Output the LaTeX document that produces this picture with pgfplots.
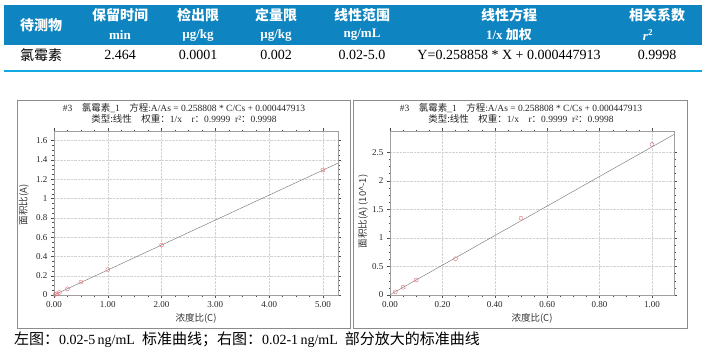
\documentclass[border=0pt]{standalone}
\usepackage{pgfplots}
\pgfplotsset{compat=1.18}
\usepackage{fontspec}
\setmainfont{Liberation Serif}
\newfontfamily\cjk{Noto Sans CJK SC}
\definecolor{hdr}{HTML}{0E84C0}
\definecolor{rulec}{HTML}{12A9E2}
\definecolor{mk}{HTML}{E66A72}
\definecolor{fr}{HTML}{8C8C8C}
\definecolor{ln}{HTML}{6E6E6E}
\pgfplotsset{cal/.style={
  scale only axis, width=284pt, height=164pt, anchor=south west,
  axis line style={draw=gray!75},
  tick align=outside, tick style={black!70, thin},
  major tick length=3pt, minor tick length=1.5pt,
  minor x tick num=3, minor y tick num=3,
  grid=major, major grid style={densely dotted, gray!35},
  ticklabel style={font=\fontsize{9}{10}\selectfont, text=black!85},
  /pgf/number format/assume math mode=true,
  xticklabel style={/pgf/number format/fixed,/pgf/number format/fixed zerofill,/pgf/number format/precision=2},
  every axis x label/.style={at={(axis description cs:0.5,0)}, anchor=center, yshift=-23pt, font=\cjk\fontsize{9.5}{11}\selectfont, text=black!80},
  clip=false,
}}
\begin{document}
\begin{tikzpicture}
\path[use as bounding box] (0,0) rectangle (707pt,-360pt);
% ---------- table ----------
\fill[hdr] (4pt,-5pt) rectangle (702pt,-45pt);
\draw[rulec, line width=2.2pt] (4pt,-71pt) -- (702pt,-71pt);
\begin{scope}[every node/.style={text=white, inner sep=0pt, anchor=center}]
\node[font=\cjk\fontsize{14}{16}\selectfont\bfseries] at (41pt,-25pt) {待测物};
\node[font=\cjk\fontsize{14}{16}\selectfont\bfseries] at (120pt,-15pt) {保留时间};
\node[font=\cjk\fontsize{14}{16}\selectfont\bfseries] at (198pt,-15pt) {检出限};
\node[font=\cjk\fontsize{14}{16}\selectfont\bfseries] at (276pt,-15pt) {定量限};
\node[font=\cjk\fontsize{14}{16}\selectfont\bfseries] at (362pt,-15pt) {线性范围};
\node[font=\cjk\fontsize{14}{16}\selectfont\bfseries] at (509pt,-15pt) {线性方程};
\node[font=\cjk\fontsize{14}{16}\selectfont\bfseries] at (657pt,-15pt) {相关系数};
\node[font=\fontsize{13}{15}\selectfont\bfseries] at (120pt,-35pt) {min};
\node[font=\fontsize{13}{15}\selectfont\bfseries] at (198pt,-35pt) {µg/kg};
\node[font=\fontsize{13}{15}\selectfont\bfseries] at (276pt,-35pt) {µg/kg};
\node[font=\fontsize{13}{15}\selectfont\bfseries] at (362pt,-35pt) {ng/mL};
\node[font=\fontsize{13}{15}\selectfont\bfseries] at (509pt,-35pt) {1/x {\cjk 加权}};
\node[font=\fontsize{13}{15}\selectfont\bfseries] at (648pt,-35pt) {\textit{r}\textsuperscript{2}};
\end{scope}
\begin{scope}[every node/.style={text=black, inner sep=0pt, anchor=center, font=\fontsize{14}{16}\selectfont}]
\node at (41pt,-55pt) {\cjk 氯霉素};
\node at (120pt,-55pt) {2.464};
\node at (198pt,-55pt) {0.0001};
\node at (276pt,-55pt) {0.002};
\node at (362pt,-55pt) {0.02-5.0};
\node at (509pt,-55pt) {Y=0.258858 * X + 0.000447913};
\node at (657pt,-55pt) {0.9998};
\end{scope}
% ---------- frames ----------
\draw[fr, line width=0.9pt] (17pt,-100pt) rectangle (350pt,-328pt);
\draw[fr, line width=0.9pt] (353pt,-100pt) rectangle (687pt,-328pt);
% ---------- titles ----------
\begin{scope}[every node/.style={text=black!85, inner sep=0pt, anchor=center, font=\fontsize{9.5}{11}\selectfont}]
\node at (184pt,-108pt) {\#3\quad{\cjk 氯霉素}\_1\quad{\cjk 方程}:A/As =\ 0.258808 * C/Cs + 0.000447913};
\node at (184pt,-119pt) {{\cjk 类型:线性\quad 权重：}1/x\quad r{\cjk ：}0.9999\ \ r²{\cjk ：}0.9998};
\node at (521pt,-108pt) {\#3\quad{\cjk 氯霉素}\_1\quad{\cjk 方程}:A/As =\ 0.258808 * C/Cs + 0.000447913};
\node at (521pt,-119pt) {{\cjk 类型:线性\quad 权重：}1/x\quad r{\cjk ：}0.9999\ \ r²{\cjk ：}0.9998};
\end{scope}
% ---------- left axis ----------
\begin{axis}[cal, at={(54pt,-295pt)},
  xmin=0, xmax=5.28, ymin=0, ymax=1.70,
  xtick={0,1,2,3,4,5}, ytick={0,0.2,0.4,0.6,0.8,1,1.2,1.4,1.6},
  xlabel={浓度比(C)}, ylabel={面积比(A)},
  every axis y label/.style={at={(axis description cs:-0.106,0.55)}, rotate=90, anchor=center, font=\cjk\fontsize{9.5}{11}\selectfont, text=black!80},
]
\addplot[ln, thin] coordinates {(0,0.000448) (5.28,1.3670)};
\addplot[only marks, mark=o, mark size=2pt, mk, mark options={thin}] coordinates {
 (0.02,0.0055) (0.05,0.0135) (0.1,0.0262) (0.25,0.0635) (0.5,0.1345) (1,0.2635) (2,0.518) (5,1.295)};
\end{axis}
% ---------- right axis ----------
\begin{axis}[cal, at={(390pt,-295pt)},
  xmin=0, xmax=1.084, ymin=0, ymax=2.87,
  xtick={0,0.2,0.4,0.6,0.8,1}, ytick={0,0.5,1,1.5,2,2.5},
  xlabel={浓度比(C)}, ylabel={面积比(A) (10\^{}-1)},
  every axis y label/.style={at={(axis description cs:-0.095,0.51)}, rotate=90, anchor=center, font=\cjk\fontsize{9.5}{11}\selectfont, text=black!80},
]
\addplot[ln, thin] coordinates {(0,0.00448) (1.084,2.8100)};
\addplot[only marks, mark=o, mark size=2pt, mk, mark options={thin}] coordinates {
 (0.02,0.055) (0.05,0.135) (0.1,0.262) (0.25,0.635) (0.5,1.345) (1,2.635)};
\end{axis}
% ---------- caption ----------
\node[anchor=west, inner sep=0pt, font=\fontsize{14}{16}\selectfont] at (14pt,-340pt)
 {{\cjk\fontsize{15}{17}\selectfont 左图：}0.02-5\,ng/mL\ \ {\cjk\fontsize{15}{17}\selectfont 标准曲线；右图：}0.02-1\,ng/mL\ \ {\cjk\fontsize{15}{17}\selectfont 部分放大的标准曲线}};
\end{tikzpicture}
\end{document}
